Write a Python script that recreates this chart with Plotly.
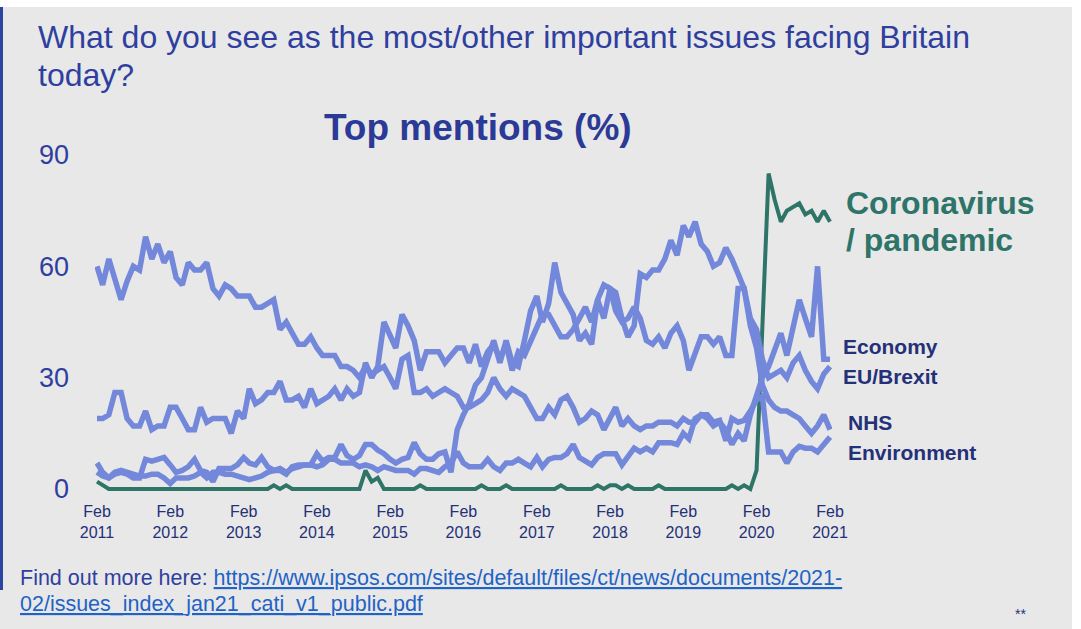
import plotly.graph_objects as go
import pandas as pd

# monthly readings, Feb 2011 .. Feb 2021
months = pd.date_range("2011-02-01", "2021-02-01", freq="MS")

economy = [
    60, 55, 62, 56, 51, 56, 60, 59, 68, 62,
    66, 61, 64, 57, 55, 61, 59, 59, 61, 54,
    52, 55, 54, 52, 52, 52, 49, 49, 50, 51,
    43, 45, 42, 39, 39, 41, 38, 36, 36, 36,
    33, 33, 32, 30, 33, 31, 32, 33, 30, 27,
    35, 36, 26, 26, 27, 25, 26, 27, 26, 25,
    22, 22, 23, 24, 26, 30, 27, 25, 27, 26,
    25, 22, 19, 19, 22, 20, 24, 25, 22, 18,
    19, 21, 20, 16, 19, 22, 17, 19, 17, 16,
    17, 17, 18, 18, 18, 17, 19, 18, 18, 20,
    19, 17, 18, 16, 12, 15, 13, 20, 25, 30,
    33, 37, 42, 36, 43, 51, 46, 41, 60, 35, 35,
]

eu_brexit = [
    7, 4.5, 3, 4, 4.5, 4, 3, 3, 8, 7.5,
    8, 8.5, 6.5, 4.5, 5, 6, 8, 5, 4.5, 2,
    5.5, 5.5, 5.5, 6.5, 8.5, 7, 6.5, 8.5, 6, 5,
    5, 4, 6, 6.5, 6.5, 6.5, 9.5, 7.5, 8.5, 8.5,
    12, 9, 8, 9, 12, 12, 10.5, 9.5, 8, 7,
    8, 8.5, 12.5, 9.5, 8, 8, 9.5, 10, 4.5, 16,
    20, 23, 28, 30, 35, 40, 34, 40, 34, 33,
    40, 48, 52, 45, 50, 61, 53, 50, 47, 40,
    42, 39, 51, 46, 54, 53, 46, 41, 44, 58,
    57, 59, 59, 62, 67, 63, 71, 68, 72, 66,
    64, 60, 61, 65, 62, 58, 54, 46, 43, 35,
    30, 31, 32, 30, 34, 36, 32, 29, 27, 31, 33,
]

nhs = [
    19, 19, 20, 26, 26, 19, 17, 17, 21, 16,
    17, 17, 22, 22, 19, 16, 16, 22, 18, 19,
    19, 19, 15, 21, 19, 27, 23, 24, 26, 26,
    29, 24, 24, 25, 22, 27, 23, 24, 25, 27,
    24, 27, 25, 26, 34, 30, 33, 45, 41, 38,
    47, 44, 40, 32, 37, 37, 37, 34, 36, 38,
    38, 34, 39, 33, 37, 39, 35, 39, 32, 37,
    36, 40, 44, 47, 47, 44, 41, 41, 43, 46,
    49, 45, 51, 55, 54, 48, 45, 46, 49, 46,
    40, 39, 41, 38, 42, 44, 40, 32, 37, 41,
    41, 39, 41, 36, 36, 54, 54, 44, 38, 28,
    24, 22, 21, 21, 20, 19, 17, 15, 17, 20, 16,
]

environment = [
    4.5, 3.5, 3, 4.5, 5, 4.5, 4, 3.5, 3.5, 4,
    4, 3, 1.5, 3, 3, 3, 3.5, 4.5, 3, 4.5,
    4.5, 4, 4, 3.5, 3, 2.5, 3, 3.5, 4.5, 5,
    5.5, 4.5, 5.5, 6, 6.5, 6.5, 6, 6.5, 8, 8,
    7, 7, 7, 6, 6.5, 6, 5, 6, 5.5, 5,
    5, 5, 4, 5.5, 5.5, 5, 4.5, 6, 7, 10,
    7, 6, 6, 6, 8, 6, 5, 7, 7, 8,
    7, 6, 8.5, 6, 8, 8.5, 8.5, 9.5, 12, 8.5,
    7.5, 6.5, 8.5, 9.5, 9.5, 9.5, 6.5, 8.5, 11, 10,
    11, 10, 12.5, 12.5, 12.5, 12, 15, 13.5, 19, 20,
    20, 18, 18.5, 13, 19, 18, 18.5, 21, 24, 25,
    10, 10, 10, 7, 10, 11.5, 11, 11, 10, 12, 14,
]

coronavirus = [
    2, 1, 0, 0, 0, 0, 0, 0, 0, 0,
    0, 0, 0, 0, 0, 0, 0, 0, 0, 0,
    0, 0, 0, 0, 0, 0, 0, 0, 0, 1,
    0, 1, 0, 0, 0, 0, 0, 0, 0, 0,
    0, 0, 0, 0, 5, 2, 3, 0, 0, 0,
    0, 0, 0, 1, 0, 0, 0, 0, 0, 0,
    0, 0, 0, 1, 0, 0, 0, 1, 0, 0,
    0, 0, 0, 0, 0, 0, 1, 0, 0, 0,
    0, 0, 1, 0, 1, 1, 0, 1, 0, 0,
    0, 0, 1, 0, 0, 0, 0, 0, 0, 0,
    0, 0, 0, 0, 1, 0, 1, 0, 5, 46,
    85, 78, 72, 75, 76, 77, 74, 75, 72, 75, 72,
]

tick_dates = pd.date_range("2011-02-01", "2021-02-01", freq="12MS")
tick_text = ["Feb<br>" + str(d.year) for d in tick_dates]
y_ticks = [0, 30, 60, 90]

FONT = "Liberation Sans, Arial, sans-serif"
BLUE_LINE = "#7388da"
GREEN = "#2e7468"
TITLE_BLUE = "#2f3f9f"
NAVY = "#243078"
LINK = "#1f63c6"
URL = "https://www.ipsos.com/sites/default/files/ct/news/documents/2021-02/issues_index_jan21_cati_v1_public.pdf"

W, H = 1081, 629
L, R, T, B = 95, 249, 148, 129
pw, ph = W - L - R, H - T - B


def px(x):
    return (x - L) / pw


def py(y):
    return (H - B - y) / ph


fig = go.Figure()
fig.add_trace(go.Scatter(x=months, y=coronavirus, mode="lines",
                         line=dict(color=GREEN, width=4)))
for series in [environment, eu_brexit, nhs, economy]:
    fig.add_trace(go.Scatter(x=months, y=series, mode="lines",
                             line=dict(color=BLUE_LINE, width=5.5)))

link_style = "style='color:%s;text-decoration:underline'" % LINK
annotations = [
    dict(text="What do you see as the most/other important issues facing Britain",
         x=px(37), y=py(37), xanchor="left", yanchor="middle",
         font=dict(size=32, color=TITLE_BLUE)),
    dict(text="today?", x=px(37), y=py(75), xanchor="left", yanchor="middle",
         font=dict(size=32, color=TITLE_BLUE)),
    dict(text="<b>Top mentions (%)</b>", x=px(478), y=py(128),
         xanchor="center", yanchor="middle", font=dict(size=37, color="#2b3a96")),
    dict(text="<b>Coronavirus</b>", x=px(845), y=py(203), xanchor="left",
         yanchor="middle", font=dict(size=32, color=GREEN)),
    dict(text="<b>/ pandemic</b>", x=px(845), y=py(240), xanchor="left",
         yanchor="middle", font=dict(size=32, color=GREEN)),
    dict(text="<b>Economy</b>", x=px(842), y=py(346), xanchor="left",
         yanchor="middle", font=dict(size=21, color=NAVY)),
    dict(text="<b>EU/Brexit</b>", x=px(842), y=py(376), xanchor="left",
         yanchor="middle", font=dict(size=21, color=NAVY)),
    dict(text="<b>NHS</b>", x=px(847), y=py(422), xanchor="left",
         yanchor="middle", font=dict(size=21, color=NAVY)),
    dict(text="<b>Environment</b>", x=px(847), y=py(452), xanchor="left",
         yanchor="middle", font=dict(size=21, color=NAVY)),
    dict(text="Find out more here: <a href='%s' %s>https://www.ipsos.com/sites/default/files/ct/news/documents/2021-</a>"
              % (URL, link_style),
         x=px(19), y=py(578), xanchor="left", yanchor="middle",
         font=dict(size=21.5, color=TITLE_BLUE)),
    dict(text="<a href='%s' %s>02/issues_index_jan21_cati_v1_public.pdf</a>" % (URL, link_style),
         x=px(19), y=py(604), xanchor="left", yanchor="middle",
         font=dict(size=21.5, color=LINK)),
    dict(text="**", x=px(1020), y=py(614), xanchor="center", yanchor="middle",
         font=dict(size=14, color=NAVY)),
]
for a in annotations:
    a.update(xref="paper", yref="paper", showarrow=False, borderpad=0)

shapes = [
    dict(type="rect", xref="paper", yref="paper", x0=px(-5), x1=px(W + 5),
         y0=py(7), y1=py(-5), fillcolor="white", line=dict(width=0)),
    dict(type="rect", xref="paper", yref="paper", x0=px(1072), x1=px(W + 5),
         y0=py(H + 5), y1=py(-5), fillcolor="white", line=dict(width=0)),
    dict(type="line", xref="paper", yref="paper", x0=px(1.5), x1=px(1.5),
         y0=py(7), y1=py(590), line=dict(color="#2c45a0", width=3)),
]

fig.update_layout(
    width=W, height=H,
    margin=dict(l=L, r=R, t=T, b=B, pad=0),
    paper_bgcolor="#e8e8e8", plot_bgcolor="#e8e8e8",
    font=dict(family=FONT, color=TITLE_BLUE),
    showlegend=False,
    annotations=annotations,
    shapes=shapes,
    xaxis=dict(type="date", range=["2011-01-22", "2021-02-11"],
               tickvals=list(tick_dates), ticktext=tick_text,
               showgrid=False, zeroline=False, showline=False, ticks="",
               tickfont=dict(size=16, color=NAVY)),
    yaxis=dict(range=[-2.96, 91.89], tickvals=y_ticks,
               showgrid=False, zeroline=False, showline=False, ticks="",
               ticklabelstandoff=25,
               tickfont=dict(size=27, color=TITLE_BLUE)),
)

fig.write_html("out.html", config={"displayModeBar": False},
               post_script="document.body.style.margin='0';")
